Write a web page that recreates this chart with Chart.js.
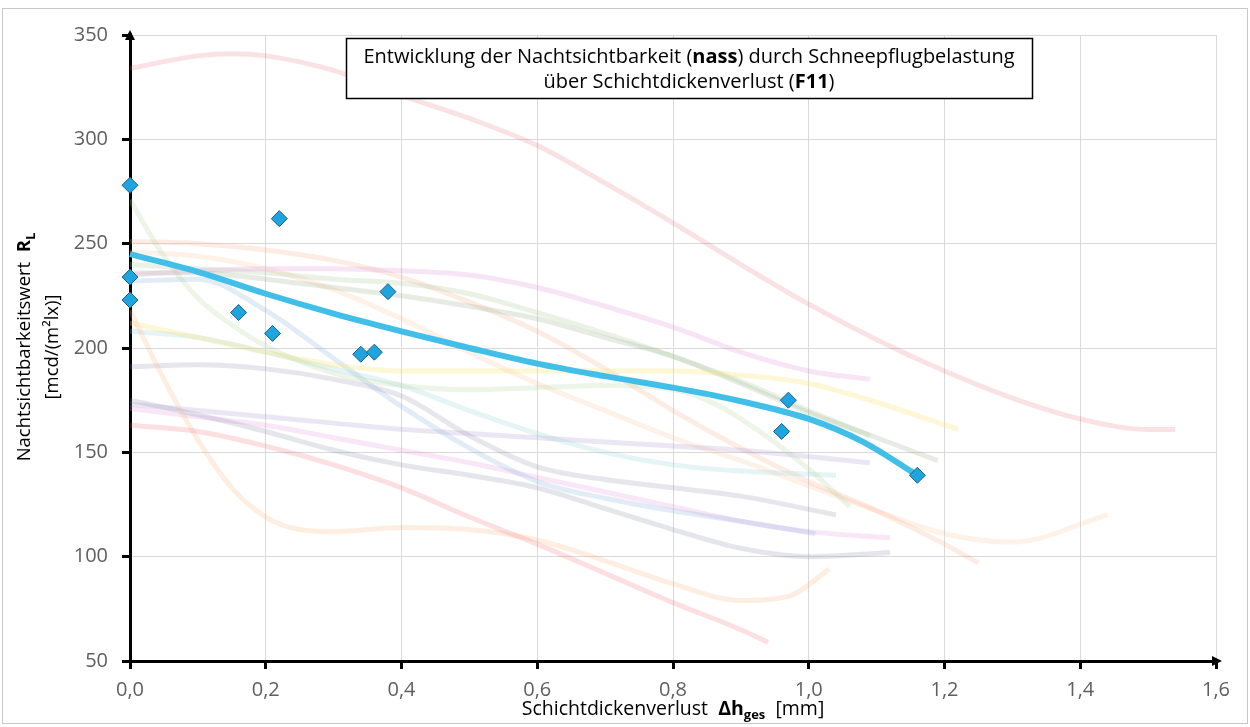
<!DOCTYPE html>
<html>
<head>
<meta charset="utf-8">
<script src="https://cdn.jsdelivr.net/npm/chart.js"></script>
<style>
  html, body { margin: 0; padding: 0; background: #fff; }
  #wrap { width: 1250px; height: 727px; }
</style>
</head>
<body>
<div id="wrap"><canvas id="chart" width="1250" height="727"></canvas></div>
<script>
// measured values (diamonds)
const messX = [0, 0, 0, 0.16, 0.21, 0.22, 0.34, 0.36, 0.38, 0.96, 0.97, 1.16];
const messY = [278, 234, 223, 217, 207, 262, 197, 198, 227, 160, 175, 139];

// fitted curve F11
const trendX = [0, 0.1, 0.2, 0.3, 0.4, 0.5, 0.6, 0.7, 0.8, 0.9, 1.0, 1.08, 1.16];
const trendY = [245, 236.5, 226, 216.5, 208, 200, 192.5, 186.5, 181, 174.5, 166, 155, 139];

// faded curves of the other fields in the background
const bgTopRedX = [0, 0.1, 0.15, 0.2, 0.3, 0.4, 0.5, 0.6, 0.7, 0.8, 0.9, 1.0, 1.1, 1.2, 1.3, 1.4, 1.5, 1.54];
const bgTopRedY = [334, 340, 341, 340, 333, 321, 310, 297, 279, 260, 240, 221, 204, 189, 176, 166, 161, 161];
const bgRedX = [0, 0.1, 0.2, 0.3, 0.4, 0.5, 0.6, 0.7, 0.8, 0.9, 0.94];
const bgRedY = [163, 160, 153, 144, 133, 119, 106, 92, 78, 65, 59];
const bgPeachDipX = [0, 0.05, 0.1, 0.15, 0.2, 0.25, 0.3, 0.4, 0.5, 0.6, 0.7, 0.8, 0.9, 0.97, 1.03];
const bgPeachDipY = [218, 185, 156, 133, 119, 113, 112, 114, 113, 108, 98, 87, 79, 81, 94];
const bgYellowX = [0, 0.1, 0.2, 0.3, 0.4, 0.6, 0.8, 0.9, 1.0, 1.1, 1.22];
const bgYellowY = [212, 205, 198, 192, 189, 189, 189, 187, 183, 174, 161];
const bgMagentaX = [0, 0.1, 0.2, 0.3, 0.4, 0.5, 0.6, 0.7, 0.8, 0.9, 1.0, 1.09];
const bgMagentaY = [235, 237, 238, 238, 237, 235, 229, 220, 210, 198, 189, 185];
const bgGreen1X = [0, 0.1, 0.2, 0.3, 0.4, 0.5, 0.6, 0.7, 0.8, 0.9, 1.0, 1.09];
const bgGreen1Y = [240, 238, 236, 233, 231, 226, 217, 207, 196, 184, 170, 158];
const bgGreen2X = [0, 0.1, 0.2, 0.3, 0.4, 0.5, 0.6, 0.7, 0.8, 0.9, 1.0, 1.1, 1.19];
const bgGreen2Y = [236, 236, 233, 229, 225, 220, 214, 205, 196, 183, 169, 157, 146];
const bgGreen3X = [0, 0.05, 0.1, 0.15, 0.2, 0.3, 0.4, 0.5, 0.6, 0.7, 0.8, 0.85, 0.9, 1.0, 1.06];
const bgGreen3Y = [271, 244, 224, 211, 201, 188, 182, 180, 181, 182, 180, 175, 166, 142, 124];
const bgTealX = [0, 0.1, 0.2, 0.3, 0.4, 0.5, 0.6, 0.7, 0.8, 0.9, 1.04];
const bgTealY = [208, 205, 198, 190, 182, 170, 159, 150, 144, 141, 139];
const bgBlueX = [0, 0.1, 0.2, 0.3, 0.4, 0.5, 0.6, 0.7, 0.8, 0.9, 1.01];
const bgBlueY = [232, 233, 218, 195, 172, 152, 136, 128, 122, 117, 111];
const bgGrey1X = [0, 0.1, 0.2, 0.3, 0.4, 0.5, 0.6, 0.7, 0.8, 0.9, 1.0, 1.12];
const bgGrey1Y = [175, 168, 160, 151, 144, 139, 133, 123, 113, 104, 100, 102];
const bgGrey2X = [0, 0.1, 0.2, 0.3, 0.4, 0.5, 0.6, 0.7, 0.8, 0.9, 1.04];
const bgGrey2Y = [191, 192, 190, 185, 177, 158, 143, 137, 133, 129, 120];
const bgPurpleX = [0, 0.1, 0.2, 0.3, 0.4, 0.5, 0.6, 0.7, 0.8, 0.9, 1.0, 1.09];
const bgPurpleY = [173, 170, 167, 164, 161, 159, 157, 155, 153, 151, 148, 145];
const bgPinkX = [0, 0.1, 0.2, 0.3, 0.4, 0.5, 0.6, 0.7, 0.8, 0.9, 1.0, 1.12];
const bgPinkY = [171, 167, 163, 157, 151, 145, 138, 131, 124, 117, 112, 109];
const bgPeach1X = [0, 0.1, 0.2, 0.3, 0.4, 0.5, 0.6, 0.7, 0.8, 0.9, 1.0, 1.1, 1.2, 1.25];
const bgPeach1Y = [251, 250, 247, 242, 234, 222, 208, 190, 170, 152, 136, 122, 106, 97];
const bgPeach2X = [0, 0.1, 0.2, 0.3, 0.4, 0.5, 0.6, 0.7, 0.8, 0.9, 1.0, 1.1, 1.2, 1.3, 1.44];
const bgPeach2Y = [246, 244, 238, 228, 214, 198, 183, 170, 157, 146, 134, 122, 111, 107, 120];

const xTicks = ['0,0', '0,2', '0,4', '0,6', '0,8', '1,0', '1,2', '1,4', '1,6'];

const FONT = '"Open Sans", "Liberation Sans", sans-serif';

const toPoints = (xs, ys) => xs.map((x, i) => ({ x: x, y: ys[i] }));

const faint = [
  [bgTopRedX, bgTopRedY, 'rgba(232,110,120,0.2)'],
  [bgRedX, bgRedY, 'rgba(240,110,120,0.22)'],
  [bgPeachDipX, bgPeachDipY, 'rgba(250,185,130,0.24)'],
  [bgYellowX, bgYellowY, 'rgba(250,228,120,0.3)'],
  [bgMagentaX, bgMagentaY, 'rgba(225,150,215,0.25)'],
  [bgGreen1X, bgGreen1Y, 'rgba(170,200,150,0.25)'],
  [bgGreen2X, bgGreen2Y, 'rgba(150,175,140,0.24)'],
  [bgGreen3X, bgGreen3Y, 'rgba(180,215,160,0.25)'],
  [bgTealX, bgTealY, 'rgba(150,210,215,0.25)'],
  [bgBlueX, bgBlueY, 'rgba(140,180,225,0.25)'],
  [bgGrey1X, bgGrey1Y, 'rgba(130,140,170,0.22)'],
  [bgGrey2X, bgGrey2Y, 'rgba(140,140,170,0.22)'],
  [bgPurpleX, bgPurpleY, 'rgba(170,150,210,0.24)'],
  [bgPinkX, bgPinkY, 'rgba(230,150,220,0.24)'],
  [bgPeach1X, bgPeach1Y, 'rgba(245,170,130,0.22)'],
  [bgPeach2X, bgPeach2Y, 'rgba(250,190,150,0.22)']
];

const datasets = [
  {
    type: 'scatter',
    data: toPoints(messX, messY),
    pointStyle: 'rectRot',
    pointRadius: 8,
    backgroundColor: '#1ea5e0',
    borderColor: '#1f5f85',
    borderWidth: 1,
    clip: false,
    order: 0
  },
  {
    type: 'line',
    data: toPoints(trendX, trendY),
    borderColor: '#41bfe9',
    borderWidth: 6,
    pointRadius: 0,
    cubicInterpolationMode: 'monotone',
    fill: false,
    clip: false,
    order: 1
  }
];
faint.forEach(f => {
  datasets.push({
    type: 'line',
    data: toPoints(f[0], f[1]),
    borderColor: f[2],
    borderWidth: 5,
    pointRadius: 0,
    cubicInterpolationMode: 'monotone',
    fill: false,
    order: 2
  });
});

// draws text made of normal / bold / subscript parts, centred on x
function drawRich(ctx, parts, x, y, size) {
  const fontOf = p => (p[1] ? 'bold ' : '') + (p[2] ? Math.round(size * 0.68) : size) + 'px ' + FONT;
  let total = 0;
  const widths = parts.map(p => {
    ctx.font = fontOf(p);
    const w = ctx.measureText(p[0]).width;
    total += w;
    return w;
  });
  let cx = x - total / 2;
  ctx.textAlign = 'left';
  ctx.textBaseline = 'middle';
  parts.forEach((p, i) => {
    ctx.font = fontOf(p);
    ctx.fillText(p[0], cx, p[2] ? y + size * 0.32 : y);
    cx += widths[i];
  });
}

const decor = {
  id: 'decor',
  beforeDraw(chart) {
    const ctx = chart.ctx;
    ctx.save();
    ctx.fillStyle = '#fff';
    ctx.fillRect(0, 0, chart.width, chart.height);
    ctx.strokeStyle = '#c8c8c8';
    ctx.lineWidth = 1;
    ctx.strokeRect(2.5, 8.5, 1245, 715);
    ctx.restore();
  },
  afterDraw(chart) {
    const ctx = chart.ctx;
    const a = chart.chartArea;
    ctx.save();
    // axis arrows
    ctx.fillStyle = '#000';
    ctx.strokeStyle = '#000';
    ctx.lineWidth = 3;
    ctx.beginPath();
    ctx.moveTo(a.left, a.top + 2);
    ctx.lineTo(a.left, a.top - 2);
    ctx.moveTo(a.right - 2, a.bottom);
    ctx.lineTo(a.right + 2, a.bottom);
    ctx.stroke();
    ctx.beginPath();
    ctx.moveTo(a.left, a.top - 5);
    ctx.lineTo(a.left - 5, a.top + 5);
    ctx.lineTo(a.left + 5, a.top + 5);
    ctx.closePath();
    ctx.fill();
    ctx.beginPath();
    ctx.moveTo(a.right + 6, a.bottom);
    ctx.lineTo(a.right - 4, a.bottom - 5);
    ctx.lineTo(a.right - 4, a.bottom + 5);
    ctx.closePath();
    ctx.fill();

    // title box
    ctx.fillStyle = '#fff';
    ctx.fillRect(346, 38, 686, 60);
    ctx.lineWidth = 1.5;
    ctx.strokeRect(346.5, 38.5, 686, 60);
    ctx.fillStyle = '#000';
    ctx.font = '18px ' + FONT;
    const w1 = ctx.measureText('Entwicklung der Nachtsichtbarkeit (nass) durch Schneepflugbelastung').width;
    const ts = Math.min(20, 18 * 668 / w1);
    drawRich(ctx, [['Entwicklung der Nachtsichtbarkeit (', 0], ['nass', 1], [') durch Schneepflugbelastung', 0]], 689, 57, ts);
    drawRich(ctx, [['über Schichtdickenverlust (', 0], ['F11', 1], [')', 0]], 689, 82, ts);

    // axis titles
    drawRich(ctx, [['Schichtdickenverlust  ', 0], ['\u0394h', 1], ['ges', 1, 1], ['  [mm]', 0]], 673, 709, 19.5);
    ctx.translate(25, 347);
    ctx.rotate(-Math.PI / 2);
    drawRich(ctx, [['Nachtsichtbarkeitswert  ', 0], ['R', 1], ['L', 1, 1]], 0, 0, 18.5);
    ctx.translate(0, 28);
    drawRich(ctx, [['[mcd/(m\u00b2lx)]', 0]], 0, 0, 18.5);
    ctx.restore();
  }
};

new Chart(document.getElementById('chart'), {
  data: { datasets: datasets },
  options: {
    responsive: false,
    devicePixelRatio: 1,
    animation: false,
    events: [],
    layout: { padding: { top: 35, right: 34, left: 0, bottom: 0 } },
    plugins: { legend: { display: false }, tooltip: { enabled: false } },
    scales: {
      x: {
        type: 'linear',
        min: 0,
        max: 1.6,
        afterFit: s => { s.height = 66; },
        ticks: {
          stepSize: 0.2,
          color: '#5f5f5f',
          font: { family: FONT, size: 20 },
          padding: 9,
          maxRotation: 0,
          callback: (v, i) => xTicks[i]
        },
        grid: { color: '#d9d9d9', lineWidth: 1, tickColor: '#000', tickLength: 8, tickWidth: 3 },
        border: { color: '#000', width: 3 }
      },
      y: {
        type: 'linear',
        min: 50,
        max: 350,
        afterFit: s => { s.width = 130; },
        ticks: {
          stepSize: 50,
          color: '#5f5f5f',
          font: { family: FONT, size: 20 },
          padding: 14
        },
        grid: { color: '#d9d9d9', lineWidth: 1, tickColor: '#000', tickLength: 8, tickWidth: 3 },
        border: { color: '#000', width: 3 }
      }
    }
  },
  plugins: [decor]
});
</script>
</body>
</html>
